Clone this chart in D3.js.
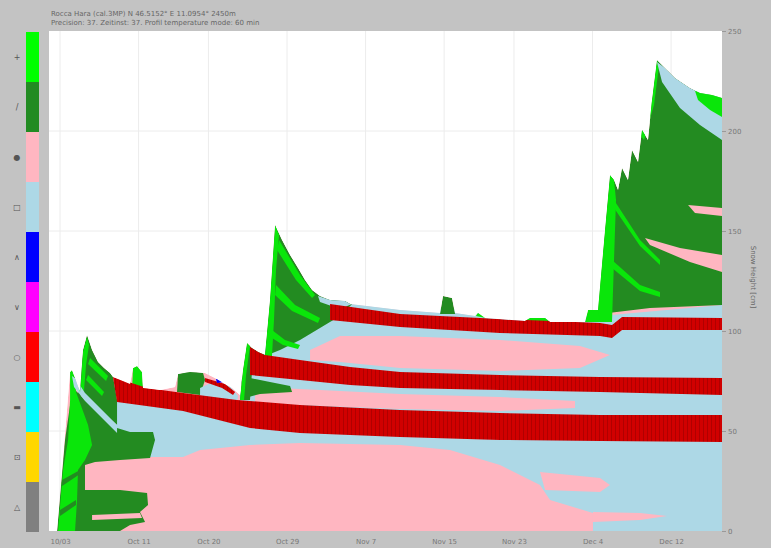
<!DOCTYPE html>
<html><head><meta charset="utf-8">
<script src="https://cdn.jsdelivr.net/npm/d3@7/dist/d3.min.js"></script>
<style>html,body{margin:0;padding:0;background:#c3c3c3;}svg{display:block;font-family:"DejaVu Sans",sans-serif;}</style>
</head><body><svg id="chart" width="771" height="548"></svg>
<script>
// ---------- text ----------
const titleLines = ["Rocca Hara (cal.3MP) N 46.5152° E 11.0954° 2450m",
                    "Precision: 37. Zeitinst: 37. Profil temperature mode: 60 min"];
const yAxisTitle = "Snow Height [cm]";
const xTickDays = [0, 9, 17, 26, 35, 44, 52, 61, 70];
const xTickLabels = ["10/03", "Oct 11", "Oct 20", "Oct 29", "Nov 7", "Nov 15", "Nov 23", "Dec 4", "Dec 12"];
const yTicks = [0, 50, 100, 150, 200, 250];
// ---------- legend (grain types) ----------
const grainTypes   = ["PP", "DF", "RG", "FC", "DH", "SH", "MF", "IF", "FCxr", "PPgp"];
const grainSymbols = ["+", "/", "●", "□", "∧", "∨", "○", "▬", "⊡", "△"];
const legendColors = ["#00ff00", "#228b22", "#ffb6c1", "#add8e6", "#0000ff", "#ff00ff", "#ff0000", "#00ffff", "#ffd700", "#808080"];
const chartColors  = {PP: "#0ae60a", DF: "#238b21", RG: "#ffb6c1", FC: "#add8e6", DH: "#0000ff", SH: "#ff00ff", MF: "#d00000", IF: "#00ffff", FCxr: "#ffd700", PPgp: "#808080"};
// ---------- snow profile layers: [day since start, height cm] ----------
const snowSurface = [[-0.34,0],[1.15,79.5],[1.37,80.5],[1.72,76.5],[2.29,69.5],[2.63,90.5],[3.09,98],[3.67,90.5],[4.35,84.5],[5.04,81.5],[5.73,79],[6.07,77],[8.02,73.5],[8.36,81.5],[8.82,82.5],[9.39,79.5],[9.51,71.5],[11.45,70.5],[13.17,72],[13.52,78.5],[14.89,79.5],[16.61,79],[17.75,76.5],[18.9,73.5],[19.7,71.5],[20.62,68],[20.96,80.5],[21.42,94],[21.99,91.5],[22.68,89.5],[23.48,88],[24.05,115.5],[24.63,153],[25.43,145.5],[26.35,138],[27.26,131.5],[28.06,125.5],[28.87,120.5],[29.78,117.5],[30.93,115.5],[32.65,115],[33.22,113.5],[38.95,110.5],[43.53,109],[43.87,117.5],[44.9,116.5],[45.25,109],[47.54,107.5],[47.88,109],[48.68,106.5],[53.26,105],[53.84,106.5],[55.56,106.5],[56.13,104.5],[60.14,104.5],[60.48,110.5],[61.63,110.5],[62.43,150.5],[63.0,178],[63.46,175.5],[63.92,170.5],[64.38,181.5],[65.06,175.5],[65.52,190.5],[66.21,184.5],[66.67,200.5],[67.35,195.5],[67.81,215.5],[68.38,235.5],[69.3,231.5],[70.45,226.5],[72.16,221.5],[73.31,219],[74.68,218],[75.83,216.5],[75.83,0]];
const fcLow = [[6.07,68],[21.76,60.5],[38.95,55.5],[61.86,52.5],[75.83,51.5],[75.83,0],[61.05,0],[61.05,9],[56.13,15.5],[54.98,23],[50.4,33],[44.67,40.5],[38.95,43],[33.22,43.5],[27.49,44],[21.76,43],[16.04,40.5],[14.09,37],[10.31,37],[8.02,43],[6.53,50.5]];
const rgLowTongue = [[61.05,9.5],[66.44,9],[69.53,7.5],[66.44,5.5],[61.05,4.5]];
const rgLowTongue2 = [[54.98,29.5],[61.86,26.5],[63.0,23],[61.86,19.5],[55.56,20.5]];
const fcMid = [[20.62,68],[21.76,85.5],[27.49,83],[38.95,78],[50.4,76.5],[61.86,75.5],[75.83,74.5],[75.83,53],[61.86,53],[38.95,55.5],[21.76,59.5],[20.62,63]];
const rgMid = [[22.34,72],[27.49,71],[38.95,68.5],[50.4,67],[58.99,65],[58.99,61.5],[50.4,60],[38.95,61],[27.49,63],[22.34,61.5]];
const fcUpper = [[23.14,93],[27.49,105.5],[30.93,116.5],[38.95,113],[50.4,109.5],[61.86,107.5],[75.83,113],[75.83,73],[61.86,74.5],[50.4,75.5],[38.95,76.5],[30.93,80.5],[23.14,86.5]];
const rgUpper = [[28.64,90.5],[32.07,97.5],[38.95,97.5],[50.4,95.5],[59.56,92.5],[63.0,88],[59.56,81.5],[50.4,80],[38.95,81.5],[32.07,84.5],[28.64,85.5]];
// storm of late October
const dfStorm3 = [[20.62,65.5],[20.96,80.5],[21.42,94],[21.99,91.5],[23.48,89.5],[24.05,115.5],[24.63,153],[25.43,145.5],[26.35,138],[27.26,131.5],[28.06,125.5],[28.87,120.5],[29.78,117.5],[30.93,115.5],[32.65,115],[33.45,113.5],[32.07,107.5],[29.78,101.5],[27.49,95.5],[25.2,90.5],[23.48,87.5],[21.99,79.5],[21.76,65.5]];
const dfStorm3Tongue = [[20.62,76.5],[21.76,76.5],[24.05,74.5],[26.35,72.5],[26.58,69.5],[22.91,68.5],[21.19,66.5]];
const ppStorm3Front = [[23.48,87.5],[24.05,115.5],[24.63,153],[25.09,148],[24.74,130.5],[24.51,105.5],[24.28,87.5]];
const ppStorm3StripeA = [[25.09,145.5],[27.49,128],[29.21,118],[28.87,116.5],[27.03,125.5],[24.86,140.5]];
const ppStorm3StripeB = [[24.74,123],[26.92,113],[29.78,106.5],[29.55,104],[26.58,110],[24.63,118]];
const ppStorm3StripeC = [[24.28,100.5],[25.77,95.5],[27.49,93],[27.26,91],[25.54,93],[24.28,96.5]];
const fcStorm3Top = [[29.55,117.5],[30.93,115.5],[32.65,115],[33.45,113.5],[32.07,111],[29.78,114.5]];
const ppStorm2bFront = [[20.62,65.5],[20.96,80.5],[21.42,94],[21.76,92.5],[21.31,78],[21.08,65.5]];
// small events mid October
const dfBump = [[13.4,69.5],[13.52,78.5],[14.89,80],[16.38,79],[16.61,75.5],[16.04,68]];
const fcBump = [[16.04,71.5],[17.75,75],[19.47,72.5],[20.39,67.5],[20.27,64.5],[16.04,65.5]];
const mfBump = [[16.61,76.5],[18.9,73.5],[20.05,69.5],[19.82,68],[18.56,71.5],[16.61,74.5]];
const dhBump = [[17.87,76],[18.56,76],[18.79,74.5],[17.98,74]];
const ppSpike = [[8.25,70.5],[8.36,81.5],[8.82,82.5],[9.39,79.5],[9.51,70.5]];
// first storms early October
const dfStorm1 = [[-0.34,0],[0.57,45.5],[1.15,63],[1.72,70.5],[3.44,63],[5.73,55.5],[6.53,51.5],[8.02,49.5],[10.65,49.5],[10.88,45.5],[10.31,36.5],[6.87,35.5],[4.01,34.5],[2.86,33],[2.86,20.5],[6.87,20.5],[9.97,19],[10.08,13],[9.16,9.5],[9.74,4.5],[8.02,3],[6.87,0]];
const rgStorm1Stripe = [[3.67,8],[9.16,9],[9.39,6.5],[3.67,5.5]];
const ppStorm1 = [[-0.23,0],[0.34,30.5],[0.92,45.5],[1.15,65.5],[1.15,79.5],[1.37,80.5],[1.72,76.5],[1.83,69.5],[3.21,53],[3.67,43],[2.86,35.5],[2.06,30.5],[1.95,15.5],[1.72,0]];
const dfStorm1StripeA = [[0.23,25.5],[2.29,30.5],[2.29,28.5],[0.23,22.5]];
const dfStorm1StripeB = [[0,10.5],[1.83,15.5],[1.83,13],[0,7.5]];
const dfStorm2 = [[2.06,68],[2.63,90.5],[3.09,98],[3.67,90.5],[4.35,84.5],[5.04,81.5],[5.73,79],[6.07,77],[6.53,65.5],[6.53,53],[4.58,60.5],[2.86,67]];
const ppStorm2Front = [[2.29,68],[2.63,89.5],[3.09,97],[3.32,93],[2.98,83],[2.75,70.5]];
const ppStorm2StripeA = [[3.44,86.5],[5.5,77.5],[5.27,75],[3.21,83.5]];
const ppStorm2StripeB = [[3.21,78],[5.04,69.5],[4.81,67.5],[2.98,75.5]];
const mfStorm2Fleck = [[4.58,89.5],[5.04,87.5],[5.27,83.5],[4.81,84.5]];
const fcStorm1Surface = [[1.37,77.5],[1.83,76],[2.86,69],[4.58,61.5],[6.53,53],[6.53,49],[4.58,57.5],[2.86,65],[1.6,72]];
// early December storms
const dfStorm4 = [[61.63,109.5],[62.43,150.5],[63.0,178],[63.46,175.5],[63.92,170.5],[64.38,181.5],[65.06,175.5],[65.52,190.5],[66.21,184.5],[66.67,200.5],[67.35,195.5],[67.81,215.5],[68.38,235.5],[69.3,231.5],[70.45,226.5],[72.16,221.5],[73.31,219],[74.68,218],[75.83,216.5],[75.83,113],[67.58,111.5],[61.86,108.5]];
const ppStorm4Front = [[61.4,104.5],[62.2,140.5],[63.0,178],[63.46,175.5],[63.69,165.5],[63.46,135.5],[63.23,104.5]];
const ppStorm4StripeA = [[63.46,165.5],[66.44,145.5],[68.73,135.5],[68.73,133],[66.44,142.5],[63.46,161.5]];
const ppStorm4StripeB = [[63.23,135.5],[66.44,123],[68.73,119.5],[68.73,117],[66.44,120],[63.23,131.5]];
const ppStorm5Edge = [[66.44,198],[67.81,215.5],[68.38,235.5],[68.61,232.5],[68.04,213],[66.9,195.5]];
const fcStorm5Top = [[68.38,234.5],[69.3,231.5],[70.45,226.5],[72.16,221.5],[73.31,219],[74.68,218],[75.83,216.5],[75.83,195.5],[73.31,203],[71.02,211.5],[68.96,224.5]];
const ppNewSnow = [[72.74,220],[74.68,219],[75.83,217.5],[75.83,207],[74.46,210.5],[73.08,215.5]];
const rgStorm4StripeA = [[71.94,163],[75.83,161.5],[75.83,157.5],[72.74,159]];
const rgStorm4StripeB = [[67.01,146.5],[71.02,141.5],[75.83,138],[75.83,129.5],[72.16,134.5],[67.58,143]];
const dfSmallA = [[43.53,108.5],[43.87,117.5],[44.9,116.5],[45.25,108.5]];
const ppSmallB = [[47.65,107.5],[47.88,109.5],[48.57,108.5],[48.8,106.5]];
const ppSmallC = [[53.26,105],[53.84,107.5],[55.56,107.5],[56.13,104.5]];
const ppSmallD = [[60.14,104.5],[60.48,110.5],[61.63,110.5],[61.86,104.5]];
// melt-freeze crusts
const mfCrust1 = [[6.07,77],[9.97,71.5],[14.09,69],[20.27,65.5],[27.49,63],[38.95,60.5],[50.4,59],[61.86,58],[75.83,58],[75.83,44.5],[61.86,45],[50.4,45.5],[38.95,47],[27.49,49],[21.76,51.5],[14.09,60],[6.53,64.5]];
const mfCrust2 = [[21.76,92],[23.48,88],[27.49,85.5],[33.22,82],[38.95,79.5],[50.4,78],[61.86,77],[75.83,76.5],[75.83,68],[61.86,69.5],[50.4,70.5],[38.95,71.5],[33.22,73],[27.49,75.5],[21.76,78]];
const mfCrust3 = [[30.93,113.5],[38.95,108.5],[50.4,106],[61.86,104],[63.23,103],[64.38,107],[75.83,106.5],[75.83,100.5],[64.38,100.5],[63.23,96.5],[61.86,97.5],[50.4,99],[38.95,102],[30.93,105.5]];

const layers = [
  ["RG", snowSurface], ["FC", fcLow], ["RG", rgLowTongue], ["RG", rgLowTongue2], ["FC", fcMid], ["RG", rgMid],
  ["FC", fcUpper], ["RG", rgUpper],
  ["DF", dfStorm3], ["DF", dfStorm3Tongue], ["PP", ppStorm3Front], ["PP", ppStorm3StripeA], ["PP", ppStorm3StripeB], ["PP", ppStorm3StripeC], ["FC", fcStorm3Top], ["PP", ppStorm2bFront],
  ["DF", dfBump], ["FC", fcBump], ["MF", mfBump], ["DH", dhBump], ["PP", ppSpike],
  ["DF", dfStorm1], ["RG", rgStorm1Stripe], ["PP", ppStorm1], ["DF", dfStorm1StripeA], ["DF", dfStorm1StripeB],
  ["DF", dfStorm2], ["PP", ppStorm2Front], ["PP", ppStorm2StripeA], ["PP", ppStorm2StripeB], ["MF", mfStorm2Fleck], ["FC", fcStorm1Surface],
  ["DF", dfStorm4], ["PP", ppStorm4Front], ["PP", ppStorm4StripeA], ["PP", ppStorm4StripeB], ["PP", ppStorm5Edge],
  ["RG", rgStorm4StripeA], ["RG", rgStorm4StripeB], ["FC", fcStorm5Top], ["PP", ppNewSnow],
  ["DF", dfSmallA], ["PP", ppSmallB], ["PP", ppSmallC], ["PP", ppSmallD],
  ["MF", mfCrust1], ["MF", mfCrust2], ["MF", mfCrust3]
];

// ---------- drawing ----------
const svg = d3.select("#chart");
const W = 771, H = 548;
const plot = {left: 49, right: 722, top: 31, bottom: 531};
const x = d3.scaleLinear().domain([-1.15, 75.83]).range([50, 722]);
const y = d3.scaleLinear().domain([0, 250]).range([plot.bottom, plot.top]);

svg.append("rect").attr("width", W).attr("height", H).attr("fill", "#c3c3c3");
svg.append("rect").attr("x", plot.left).attr("y", plot.top)
   .attr("width", plot.right - plot.left).attr("height", plot.bottom - plot.top).attr("fill", "#ffffff");

// gridlines
const grid = svg.append("g");
grid.selectAll("line.v").data(xTickDays).join("line")
  .attr("x1", d => x(d)).attr("x2", d => x(d)).attr("y1", plot.top).attr("y2", plot.bottom)
  .attr("stroke", "#ececec").attr("stroke-width", 1);
grid.selectAll("line.h").data(yTicks.slice(1, -1)).join("line")
  .attr("x1", plot.left).attr("x2", plot.right).attr("y1", d => y(d)).attr("y2", d => y(d))
  .attr("stroke", "#ececec").attr("stroke-width", 1);

// MF pattern
const defs = svg.append("defs");
const pat = defs.append("pattern").attr("id", "mfPat").attr("patternUnits", "userSpaceOnUse")
  .attr("width", 4).attr("height", 8);
pat.append("rect").attr("width", 4).attr("height", 8).attr("fill", chartColors.MF);
pat.append("rect").attr("x", 3).attr("width", 1).attr("height", 8).attr("fill", "#b00000");

const line = d3.line().x(d => x(d[0])).y(d => y(d[1])).curve(d3.curveLinearClosed);
defs.append("clipPath").attr("id", "snowClip").append("path").attr("d", line(snowSurface));

const g = svg.append("g").attr("clip-path", "url(#snowClip)");
g.selectAll("path").data(layers).join("path")
  .attr("d", d => line(d[1]))
  .attr("fill", d => d[0] === "MF" ? "url(#mfPat)" : chartColors[d[0]])
  .attr("stroke", "none");

// right axis
const yAxis = d3.axisRight(y).tickValues(yTicks).tickSize(4).tickPadding(2);
const ya = svg.append("g").attr("transform", `translate(${plot.right},0)`).call(yAxis);
ya.select(".domain").remove();
ya.selectAll("line").attr("stroke", "#999");
ya.selectAll("text").attr("fill", "#777").attr("font-size", 7).attr("font-family", "DejaVu Sans");

svg.append("text").attr("transform", `translate(751,277) rotate(90)`)
  .attr("text-anchor", "middle").attr("font-size", 7).attr("fill", "#666").text(yAxisTitle);

// bottom axis
const xAxis = d3.axisBottom(x).tickValues(xTickDays).tickFormat((d, i) => xTickLabels[i]).tickSize(0).tickPadding(8);
const xa = svg.append("g").attr("transform", `translate(0,${plot.bottom})`).call(xAxis);
xa.select(".domain").remove();
xa.selectAll("text").attr("fill", "#777").attr("font-size", 7).attr("font-family", "DejaVu Sans");

// title
svg.selectAll("text.title").data(titleLines).join("text").attr("class", "title")
  .attr("x", 51).attr("y", (d, i) => 16 + i * 9).attr("font-size", 7).attr("fill", "#666").text(d => d);

// legend
const ly = d3.scaleBand().domain(grainTypes).range([32, 532]);
const lg = svg.append("g");
lg.selectAll("rect").data(grainTypes).join("rect")
  .attr("x", 26).attr("y", d => ly(d)).attr("width", 13).attr("height", ly.bandwidth())
  .attr("fill", (d, i) => legendColors[i]);
lg.selectAll("text").data(grainTypes).join("text")
  .attr("x", 17).attr("y", d => ly(d) + ly.bandwidth() / 2 + 3)
  .attr("text-anchor", "middle").attr("font-size", 8).attr("fill", "#555")
  .text((d, i) => grainSymbols[i]);
</script></body></html>
